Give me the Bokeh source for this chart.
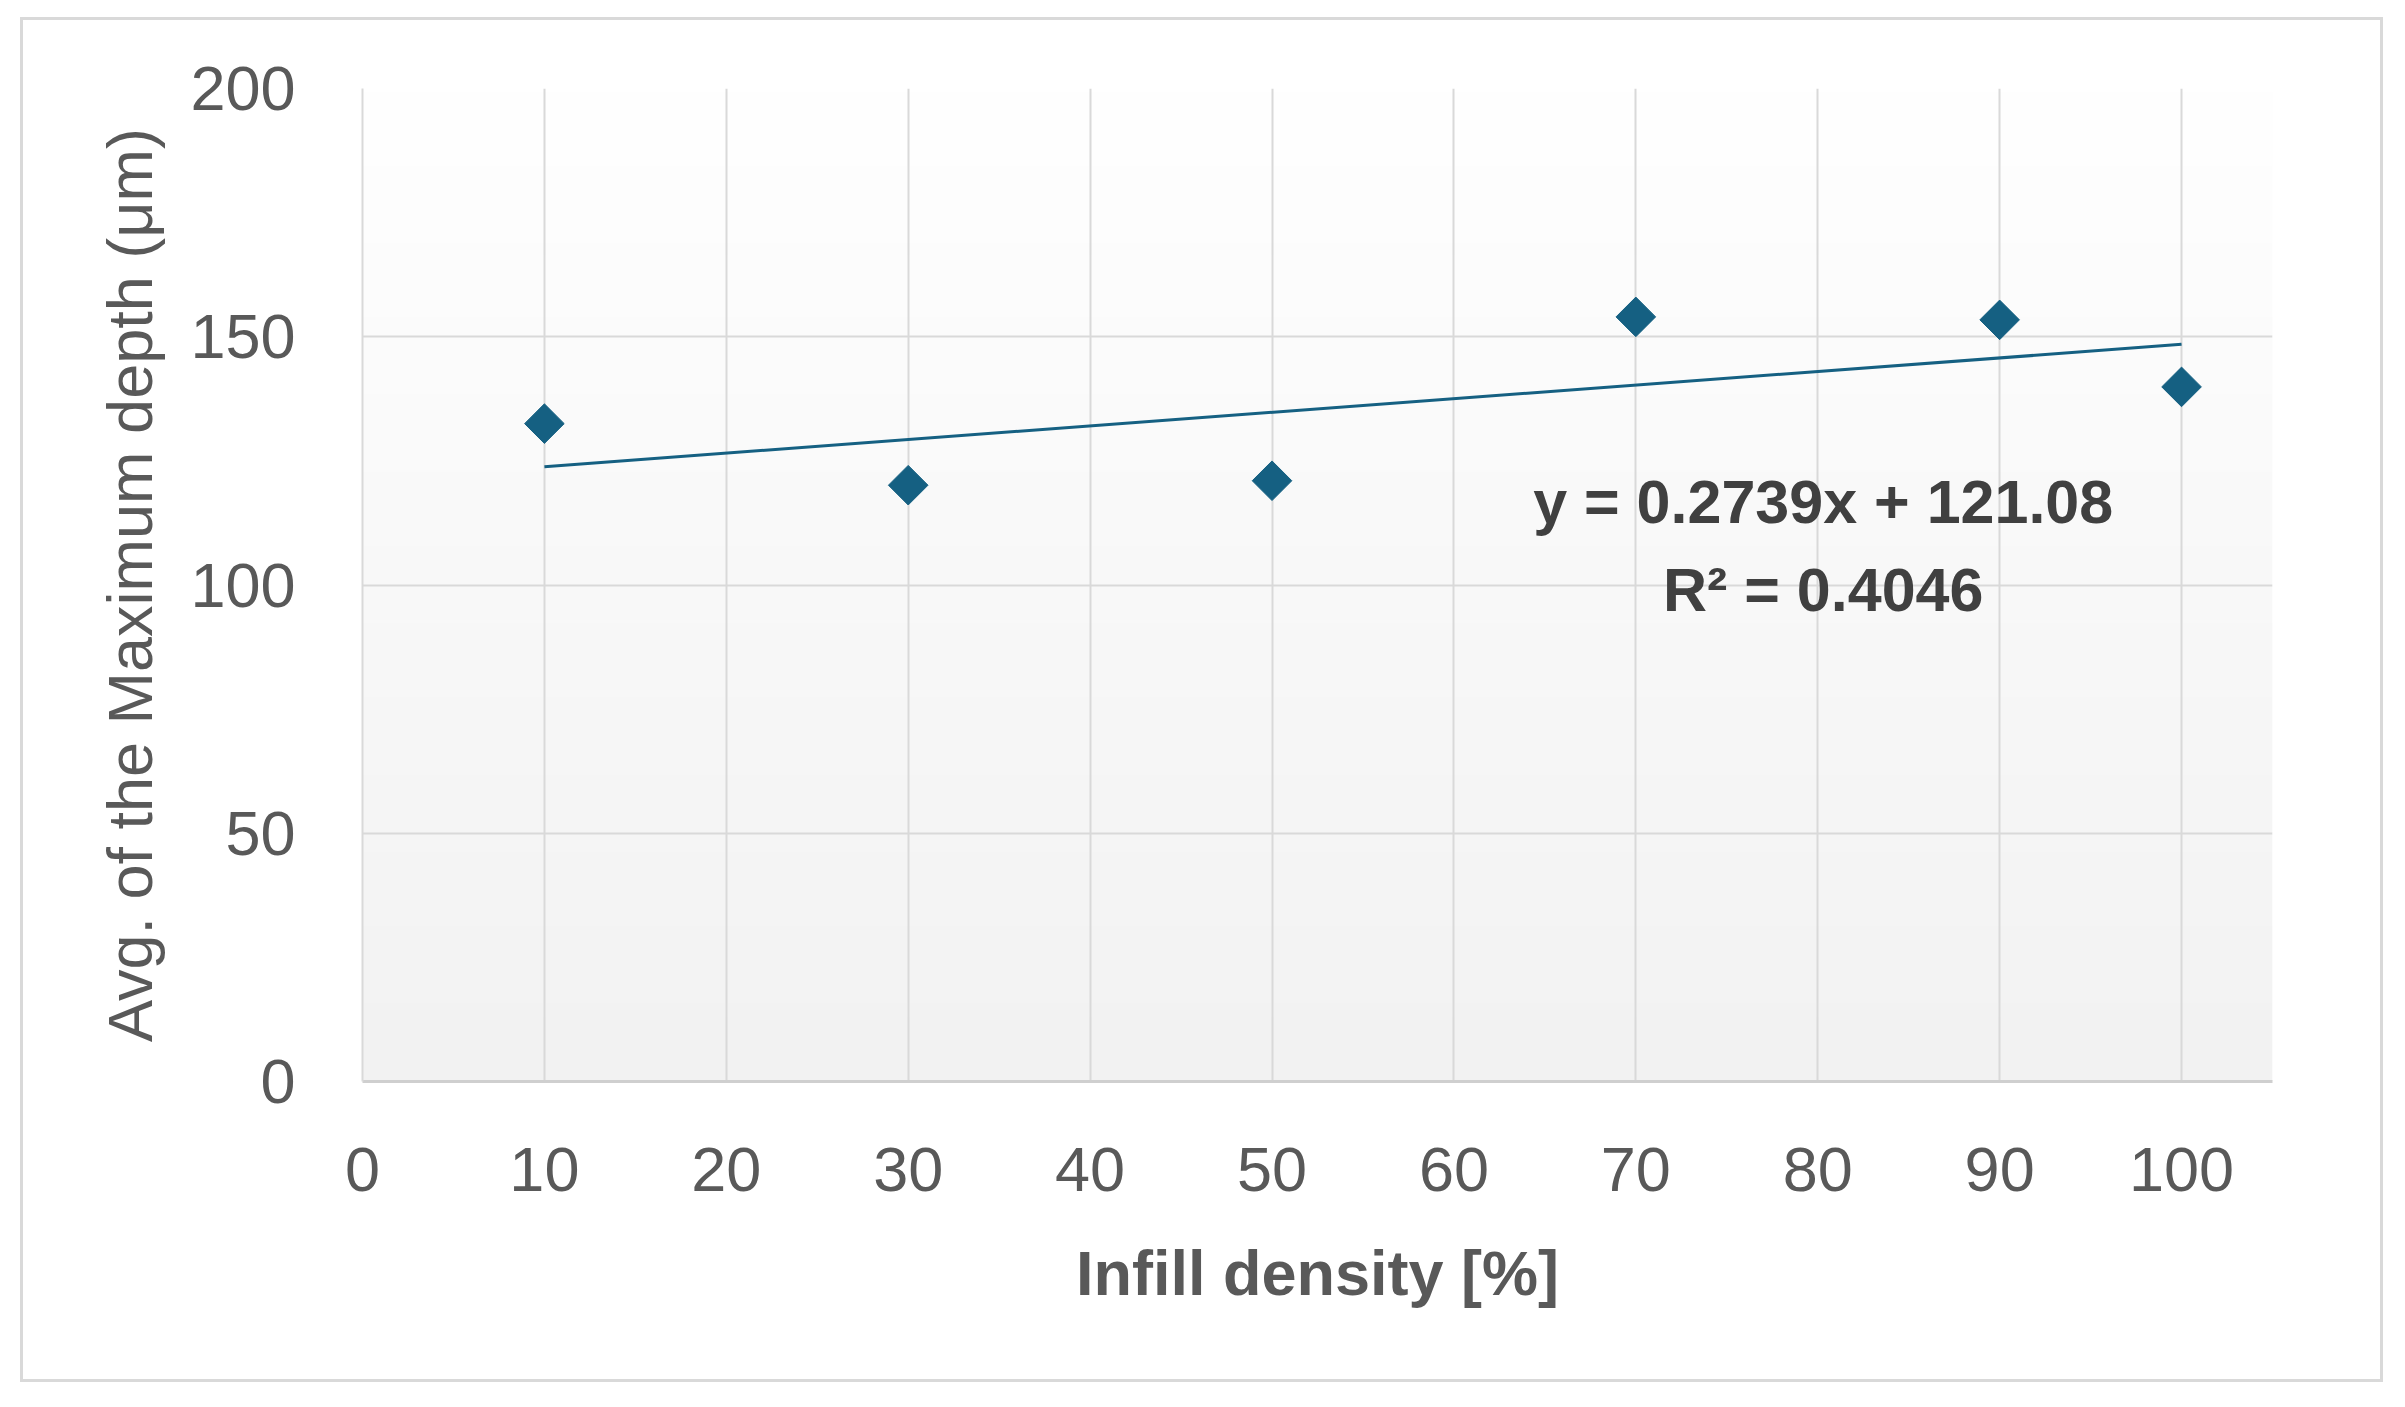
import numpy as np
from bokeh.plotting import figure
from bokeh.models import Range1d, FixedTicker, Label, InlineStyleSheet
from bokeh.embed import file_html
from bokeh.resources import INLINE

# ---- data ----
infill = [10, 30, 50, 70, 90, 100]
max_depth = [132.5, 120.1, 121.0, 154.0, 153.4, 139.9]
x_ticks = [0, 10, 20, 30, 40, 50, 60, 70, 80, 90, 100]
y_ticks = [0, 50, 100, 150, 200]
slope = 0.2739
intercept = 121.08
r_squared = 0.4046

x_title = "Infill density [%]"
y_title = "Avg. of the Maximum depth (μm)"

BLUE = "#156082"
TICK_GREY = "#595959"
EQ_GREY = "#404040"
GRID = "#d9d9d9"

W, H = 2389, 1391
p = figure(width=W, height=H, output_backend="svg", toolbar_location=None,
           x_range=Range1d(0, 105), y_range=Range1d(0, 200),
           min_border_left=362, min_border_right=117,
           min_border_top=88, min_border_bottom=310)

p.background_fill_color = "white"
p.border_fill_color = "white"
p.outline_line_color = None

# outer chart border drawn with CSS over the canvas
p.stylesheets = [InlineStyleSheet(css="""
:host { position: relative; }
:host::after {
  content: "";
  position: absolute;
  left: 20px; top: 17px;
  width: 2357px; height: 1359px;
  border: 3px solid #d9d9d9;
  box-sizing: content-box;
  pointer-events: none;
  z-index: 10;
}
""")]

# gradient background of plot area (decoration)
n = 256
grad = np.linspace(0, 1, n)
cols = (255 - grad * (255 - 0xf2)).astype(np.uint32)
img = np.empty((n, 1), dtype=np.uint32)
view = img.view(dtype=np.uint8).reshape((n, 1, 4))
view[:, 0, 0] = cols[::-1]
view[:, 0, 1] = cols[::-1]
view[:, 0, 2] = cols[::-1]
view[:, 0, 3] = 255
p.image_rgba(image=[img], x=0, y=0, dw=105, dh=200, level="image")

# axes
for ax in (p.xaxis[0], p.yaxis[0]):
    ax.major_tick_line_color = None
    ax.minor_tick_line_color = None
    ax.major_label_text_color = TICK_GREY
    ax.major_label_text_font = "Liberation Sans"
    ax.major_label_text_font_size = "63px"
    ax.axis_label_text_color = TICK_GREY
    ax.axis_label_text_font = "Liberation Sans"
    ax.axis_label_text_font_size = "63px"

p.xaxis.ticker = FixedTicker(ticks=x_ticks)
p.yaxis.ticker = FixedTicker(ticks=y_ticks)
p.xaxis.axis_label = x_title
p.xaxis.axis_label_text_font_style = "bold"
p.yaxis.axis_label = y_title
p.yaxis.axis_label_text_font_style = "normal"
p.xaxis.major_label_standoff = 60
p.xaxis.axis_label_standoff = 44
p.yaxis.major_label_standoff = 61
p.yaxis.axis_label_standoff = 22
p.xaxis.axis_line_color = "#cfcfcf"
p.xaxis.axis_line_width = 3
p.yaxis.axis_line_color = GRID
p.yaxis.axis_line_width = 2

p.xgrid.grid_line_color = GRID
p.xgrid.grid_line_width = 2
p.ygrid.grid_line_color = GRID
p.ygrid.grid_line_width = 2

# trendline
x_fit = np.array([min(infill), max(infill)], dtype=float)
y_fit = slope * x_fit + intercept
p.line(x_fit, y_fit, line_color=BLUE, line_width=3)

# points (diamonds)
p.scatter(infill, max_depth, marker="square", angle=np.pi / 4, size=28,
          fill_color=BLUE, line_color=BLUE)

# equation labels
p.add_layout(Label(x=80.3, y=116.8, text=f"y = {slope}x + {intercept}",
                   text_align="center", text_baseline="middle",
                   text_font="Liberation Sans", text_font_style="bold",
                   text_font_size="61px", text_color=EQ_GREY))
p.add_layout(Label(x=80.3, y=98.9, text=f"R² = {r_squared}",
                   text_align="center", text_baseline="middle",
                   text_font="Liberation Sans", text_font_style="bold",
                   text_font_size="61px", text_color=EQ_GREY))

open("out.html", "w").write(file_html(p, INLINE))
